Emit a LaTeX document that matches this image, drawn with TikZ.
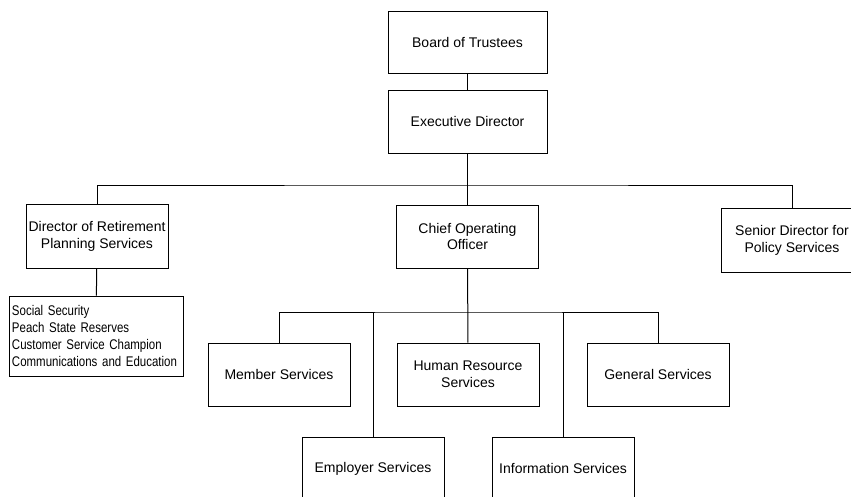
\documentclass[tikz,border=0pt]{standalone}
\usepackage{fontspec}
\setmainfont{Liberation Sans}
\newfontfamily\narrowfont[FakeStretch=0.82, WordSpace=0.8]{Liberation Sans}
\usetikzlibrary{positioning, calc}

\begin{document}
\begin{tikzpicture}[x=1pt, y=-1pt,
    orgbox/.style={draw, line width=1pt, minimum width=142pt, minimum height=63pt,
                   align=center, font=\fontsize{14}{16.8}\selectfont, inner sep=2pt},
    wirelink/.style={line width=1pt}]
    \clip (0,0) rectangle (851,496);
    \useasboundingbox (0,0) rectangle (851,496);

    % Top of the chart
    \node[orgbox, minimum width=159pt, minimum height=62pt] (board) at (467.5, 42) {Board of Trustees};
    \node[orgbox, minimum width=159pt] (exec) at (467.5, 121.5) {Executive Director};

    % Second level
    \node[orgbox, minimum height=64pt] (retire) at (97, 236) {Director of Retirement\\Planning Services};
    \node[orgbox] (coo) at (467.5, 236.5) {Chief Operating\\Officer};
    \node[orgbox, minimum height=64pt] (policy) at (792, 240) {Senior Director for\\Policy Services};

    % Retirement planning units
    \node[draw, line width=1pt, minimum width=174pt, minimum height=80pt, text width=168pt,
          align=left, inner sep=3pt, font=\narrowfont\fontsize{14}{16.7}\selectfont]
          (units) at (96, 336) {Social Security\\Peach State Reserves\\Customer Service Champion\\Communications and Education};

    % Operating divisions
    \node[orgbox] (member) at (279, 374.5) {Member Services};
    \node[orgbox] (hr) at (468, 374.5) {Human Resource\\Services};
    \node[orgbox] (general) at (658, 374.5) {General Services};
    \node[orgbox] (employer) at (373, 468.5) {Employer Services};
    \node[orgbox] (info) at (563, 468.5) {Information Services};

    % Buses
    \coordinate (topbus) at (467.5, 185);
    \coordinate (lowbus) at (468, 312);

    % Connectors
    \draw[wirelink] (board) -- (exec);
    \draw[wirelink] (exec) -- (coo);
    \draw[wirelink] (retire.north) |- (topbus) -| (policy.north);
    \draw[wirelink] (retire) -- (units);
    \draw[wirelink] (coo) -- (hr);
    \draw[wirelink] (member.north) |- (lowbus) -| (general.north);
    \draw[wirelink] (employer.north) -- (employer.north |- lowbus);
    \draw[wirelink] (info.north) -- (info.north |- lowbus);
\end{tikzpicture}
\end{document}
